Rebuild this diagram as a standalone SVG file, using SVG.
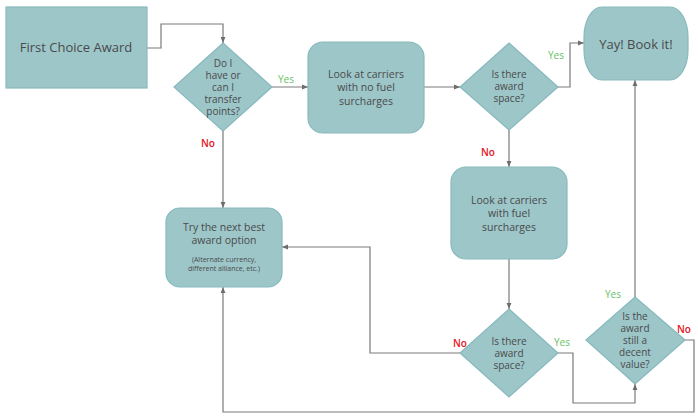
<svg xmlns="http://www.w3.org/2000/svg" width="698" height="418" viewBox="0 0 698 418">
<defs>
<marker id="arr" viewBox="0 0 10 10" refX="10" refY="5" markerWidth="6" markerHeight="6" markerUnits="userSpaceOnUse" orient="auto">
<path d="M0,1 L10,5 L0,9 z" fill="#6d6d6d"/>
</marker>
<style>
.n{fill:#9dc6c9;stroke:#87b9bd;stroke-width:1.2}
.c{fill:none;stroke:#7a7a7a;stroke-width:1.2}
.t{font-family:"Open Sans","Noto Sans","DejaVu Sans",sans-serif;fill:#4a4a4a;text-anchor:middle}
.y{font-family:"Open Sans","Noto Sans",sans-serif;fill:#66c266;font-size:10px}
.no{font-family:"Open Sans","Noto Sans",sans-serif;fill:#e8121c;font-size:10px;font-weight:600}
</style>
</defs>
<rect width="698" height="418" fill="#ffffff"/>
<g id="connectors">
<polyline class="c" points="147,48 161,48 161,24 223,24 223,43" marker-end="url(#arr)"/>
<polyline class="c" points="272,87 308,87" marker-end="url(#arr)"/>
<polyline class="c" points="424,87 460,87" marker-end="url(#arr)"/>
<polyline class="c" points="558,87 570,87 570,43 584,43" marker-end="url(#arr)"/>
<polyline class="c" points="509,130 509,167" marker-end="url(#arr)"/>
<polyline class="c" points="509,259 509,309" marker-end="url(#arr)"/>
<polyline class="c" points="223,131 223,208" marker-end="url(#arr)"/>
<polyline class="c" points="460,353 370,353 370,247 282,247" marker-end="url(#arr)"/>
<polyline class="c" points="558,353 573,353 573,403 635,403 635,384" marker-end="url(#arr)"/>
<polyline class="c" points="635,297 635,80" marker-end="url(#arr)"/>
<polyline class="c" points="685,340 694,340 694,412 223,412 223,287" marker-end="url(#arr)"/>
<text class="y" x="278" y="83">Yes</text>
<text class="no" x="201" y="147">No</text>
<text class="y" x="548" y="59">Yes</text>
<text class="no" x="481" y="156">No</text>
<text class="no" x="453" y="347">No</text>
<text class="y" x="554" y="346">Yes</text>
<text class="y" x="605" y="298">Yes</text>
<text class="no" x="677" y="333">No</text>
</g>
<g id="first-choice">
<rect class="n" x="6" y="7" width="141" height="81"/>
<text class="t" x="76" y="52" font-size="13">First Choice Award</text>
</g>
<g id="transfer-points">
<polygon class="n" points="223,43 272,87 223,131 174,87"/>
<text class="t" font-size="10"><tspan x="223" y="67">Do I</tspan><tspan x="223" y="79">have or</tspan><tspan x="223" y="91">can I</tspan><tspan x="223" y="103">transfer</tspan><tspan x="223" y="115">points?</tspan></text>
</g>
<g id="no-fuel">
<rect class="n" x="308" y="42" width="116" height="91" rx="15"/>
<text class="t" font-size="10.5"><tspan x="366" y="78">Look at carriers</tspan><tspan x="366" y="91">with no fuel</tspan><tspan x="366" y="105">surcharges</tspan></text>
</g>
<g id="award-space-1">
<polygon class="n" points="509,43 558,87 509,130 460,87"/>
<text class="t" font-size="10"><tspan x="509" y="78">Is there</tspan><tspan x="509" y="90">award</tspan><tspan x="509" y="102">space?</tspan></text>
</g>
<g id="book-it">
<rect class="n" x="584" y="7" width="104" height="73" rx="18" ry="30"/>
<text class="t" x="636" y="49" font-size="13">Yay! Book it!</text>
</g>
<g id="with-fuel">
<rect class="n" x="451" y="167" width="116" height="92" rx="15"/>
<text class="t" font-size="10.5"><tspan x="509" y="204">Look at carriers</tspan><tspan x="509" y="217">with fuel</tspan><tspan x="509" y="231">surcharges</tspan></text>
</g>
<g id="next-best">
<rect class="n" x="166" y="208" width="116" height="79" rx="14"/>
<text class="t" font-size="10.5"><tspan x="224" y="231">Try the next best</tspan><tspan x="224" y="244">award option</tspan></text>
<text class="t" font-size="7"><tspan x="224" y="262">(Alternate currency,</tspan><tspan x="224" y="271">different alliance, etc.)</tspan></text>
</g>
<g id="award-space-2">
<polygon class="n" points="509,309 558,353 509,397 460,353"/>
<text class="t" font-size="10"><tspan x="509" y="345">Is there</tspan><tspan x="509" y="357">award</tspan><tspan x="509" y="369">space?</tspan></text>
</g>
<g id="decent-value">
<polygon class="n" points="635,297 685,340 635,384 586,340"/>
<text class="t" font-size="10"><tspan x="635" y="320">Is the</tspan><tspan x="635" y="332">award</tspan><tspan x="635" y="344">still a</tspan><tspan x="635" y="356">decent</tspan><tspan x="635" y="368">value?</tspan></text>
</g>
</svg>
